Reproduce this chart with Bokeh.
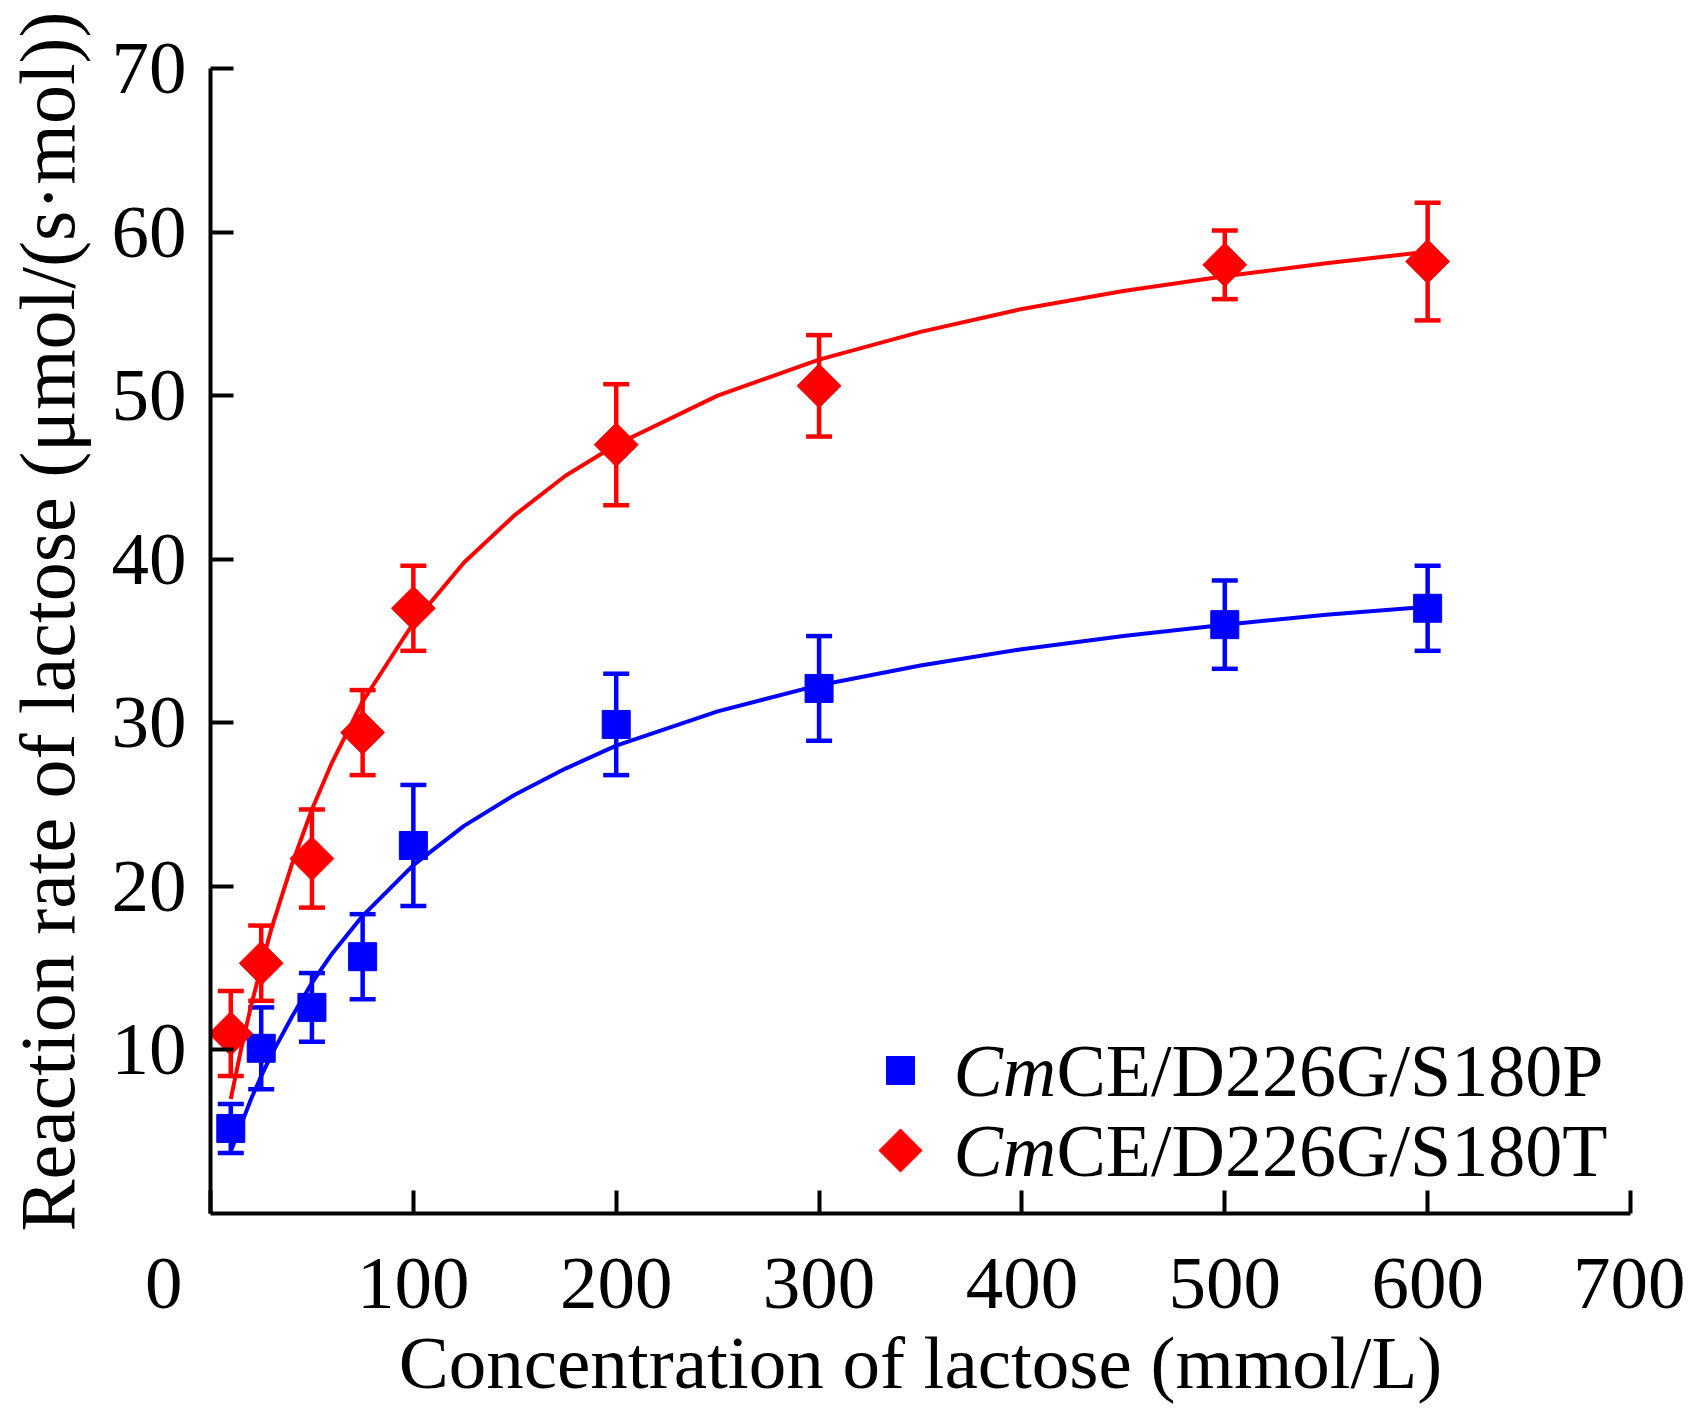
import numpy as np
from bokeh.plotting import figure
from bokeh.models import ColumnDataSource, Whisker, TeeHead, FixedTicker, Range1d
from bokeh.core.properties import value
from bokeh.embed import file_html
from bokeh.resources import INLINE

# ---- data ----
conc = [10, 25, 50, 75, 100, 200, 300, 500, 600]
rate_p = [5.2, 10.1, 12.6, 15.7, 22.5, 29.9, 32.1, 36.0, 37.0]
err_p = [1.5, 2.5, 2.1, 2.6, 3.7, 3.1, 3.2, 2.7, 2.6]
rate_t = [11.0, 15.3, 21.7, 29.4, 37.0, 47.0, 50.6, 58.0, 58.2]
err_t = [2.6, 2.3, 3.0, 2.6, 2.6, 3.7, 3.1, 2.1, 3.6]

fit_x = [10, 15, 20, 25, 30, 40, 50, 60, 75, 100, 125, 150, 175, 200,
         250, 300, 350, 400, 450, 500, 550, 600]
fit_p = [3.8, 5.4, 7.0, 8.4, 9.7, 12.0, 14.1, 15.9, 18.2, 21.3, 23.7, 25.6,
         27.2, 28.6, 30.7, 32.3, 33.5, 34.5, 35.3, 36.0, 36.6, 37.1]
fit_t = [7.0, 10.0, 12.7, 15.1, 17.4, 21.3, 24.7, 27.6, 31.3, 36.1, 39.8, 42.7,
         45.1, 47.0, 50.0, 52.2, 53.9, 55.3, 56.4, 57.3, 58.1, 58.8]

x_ticks = [0, 100, 200, 300, 400, 500, 600, 700]
y_ticks = [10, 20, 30, 40, 50, 60, 70]
series_prefix = "Cm"
series_names = ["CE/D226G/S180P", "CE/D226G/S180T"]
x_title = "Concentration of lactose (mmol/L)"
y_title = "Reaction rate of lactose (μmol/(s·mol))"

# ---- style ----
FONT = "Liberation Serif"
BLUE = "#0000FF"
RED = "#FF0000"
FRAME_W, FRAME_H = 1420, 1145
NBSP = "\u00a0"

p = figure(width=1685, height=1408, x_range=Range1d(0, 700), y_range=Range1d(0, 70),
           output_backend="svg", toolbar_location=None,
           min_border_left=210, min_border_right=55, min_border_top=68, min_border_bottom=195)
p.xgrid.visible = False
p.ygrid.visible = False
p.outline_line_color = None
p.background_fill_color = "white"
p.border_fill_color = "white"

for ax in (p.xaxis[0], p.yaxis[0]):
    ax.axis_line_width = 4
    ax.axis_line_color = "black"
    ax.major_tick_line_width = 4
    ax.major_tick_line_color = "black"
    ax.major_tick_in = 23
    ax.major_tick_out = 0
    ax.minor_tick_line_color = None
    ax.major_label_text_font = FONT
    ax.major_label_text_font_size = "75px"
    ax.major_label_text_color = "black"
    ax.axis_label_text_font = FONT
    ax.axis_label_text_font_style = "normal"
    ax.axis_label_text_color = "black"
p.xaxis.ticker = FixedTicker(ticks=x_ticks)
p.yaxis.ticker = FixedTicker(ticks=y_ticks)
# origin label sits left of the corner, as in the reference
p.xaxis.major_label_overrides = {0: "0" + NBSP * 5}
p.xaxis.major_label_standoff = 27
p.yaxis.major_label_standoff = 24
p.xaxis.axis_label = x_title
p.xaxis.axis_label_text_font_size = "75px"
p.xaxis.axis_label_standoff = -6
# two leading no-break spaces nudge the centred title slightly upward, as in the reference
p.yaxis.axis_label = NBSP * 2 + y_title
p.yaxis.axis_label_text_font_size = "78px"
p.yaxis.axis_label_standoff = 18


def add_series(rates, errs, color, marker, size, angle, fit):
    src = ColumnDataSource(dict(
        x=conc, y=rates,
        lo=[r - e for r, e in zip(rates, errs)],
        hi=[r + e for r, e in zip(rates, errs)],
    ))
    w = Whisker(source=src, base="x", lower="lo", upper="hi",
                line_color=color, line_width=4.5, level="underlay",
                upper_head=TeeHead(size=26, line_color=color, line_width=4.5),
                lower_head=TeeHead(size=26, line_color=color, line_width=4.5))
    p.add_layout(w)
    p.line(fit_x, fit, line_color=color, line_width=4)
    p.scatter("x", "y", source=src, marker=marker, size=size, angle=angle,
              fill_color=color, line_color=color)


add_series(rate_p, err_p, BLUE, "square", 28, 0, fit_p)
add_series(rate_t, err_t, RED, "square", 31, np.pi / 4, fit_t)

# ---- legend (in frame pixel coordinates) ----
p.extra_x_ranges = {"lx": Range1d(0, FRAME_W)}
p.extra_y_ranges = {"ly": Range1d(0, FRAME_H)}
p.scatter(x=[690], y=[143], marker="square", size=28, fill_color=BLUE, line_color=BLUE,
          x_range_name="lx", y_range_name="ly")
p.scatter(x=[690], y=[63], marker="square", angle=np.pi / 4, size=30.5, fill_color=RED,
          line_color=RED, x_range_name="lx", y_range_name="ly")
p.text(x=[743, 743], y=[143, 63], text=[series_prefix, series_prefix],
       text_font=value(FONT), text_font_style="italic", text_font_size="74px",
       text_baseline="alphabetic", text_align="left", text_color="black",
       x_range_name="lx", y_range_name="ly")
p.text(x=[846, 846], y=[143, 63], text=series_names,
       text_font=value(FONT), text_font_size="74px",
       text_baseline="alphabetic", text_align="left", text_color="black",
       x_range_name="lx", y_range_name="ly")

open("out.html", "w").write(file_html(p, INLINE))
